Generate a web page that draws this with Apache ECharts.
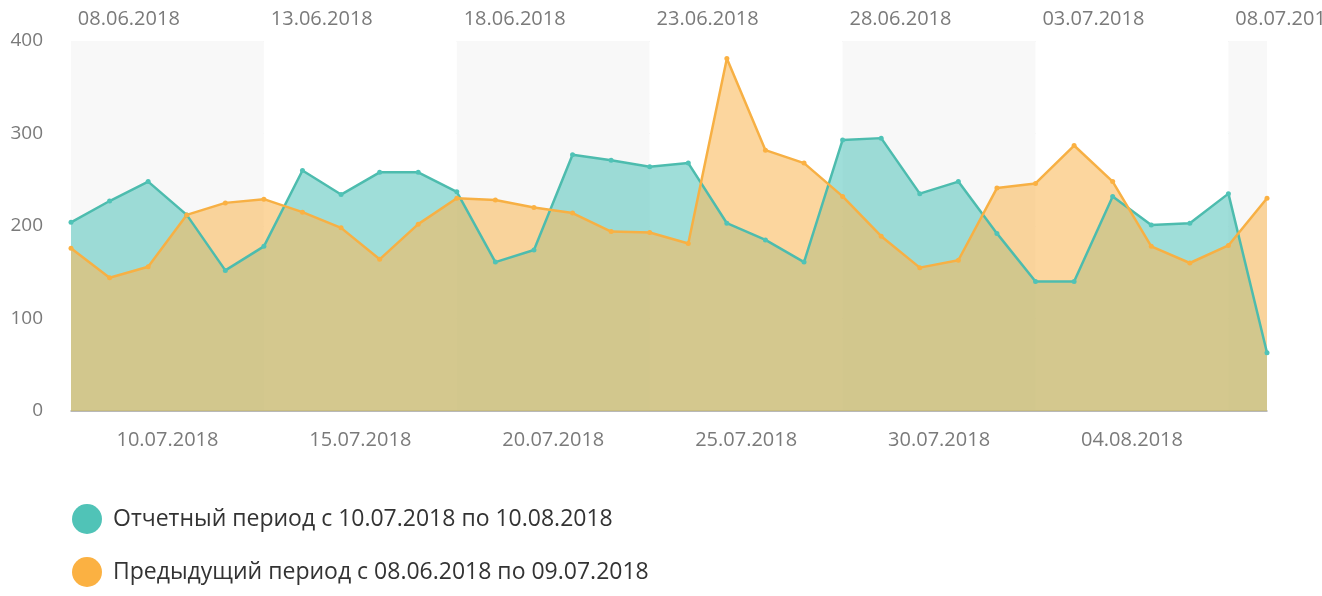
<!DOCTYPE html>
<html>
<head>
<meta charset="utf-8">
<script src="https://cdn.jsdelivr.net/npm/echarts@6/dist/echarts.min.js"></script>
<style>
  html, body { margin: 0; padding: 0; background: #fff; }
  #chart { width: 1322px; height: 596px; }
</style>
</head>
<body>
<div id="chart"></div>
<script>
// отчетный период 10.07 - 10.08 (32 дня)
const current = [204, 227, 248, 212, 152, 178, 260, 234, 258, 258, 237, 161, 174, 277, 271, 264,
  268, 203, 185, 161, 293, 295, 235, 248, 192, 140, 140, 232, 201, 203, 235, 63];
// предыдущий период 08.06 - 09.07
const previous = [176, 144, 156, 212, 225, 229, 215, 198, 164, 202, 230, 228, 220, 214, 194, 193,
  181, 381, 282, 268, 232, 189, 155, 163, 241, 246, 287, 248, 178, 160, 179, 230];

const bottomLabels = ['10.07.2018', '15.07.2018', '20.07.2018', '25.07.2018', '30.07.2018', '04.08.2018'];
const topLabels = ['08.06.2018', '13.06.2018', '18.06.2018', '23.06.2018', '28.06.2018', '03.07.2018', '08.07.2018'];
const names = ['Отчетный период с 10.07.2018 по 10.08.2018', 'Предыдущий период с 08.06.2018 по 09.07.2018'];

const chart = echarts.init(document.getElementById('chart'));
const font = '"Open Sans", "Noto Sans", sans-serif';
const unit = (1322 - 71 - 55) / 31; // ширина одного дня в пикселях

const pick = (v, start, arr) => {
  const k = (v - start) / 5;
  const r = Math.round(k);
  return Math.abs(k - r) < 1e-6 && arr[r] !== undefined ? arr[r] : '';
};

const option = {
  animation: false,
  textStyle: { fontFamily: font },
  grid: { left: 71, right: 55, top: 41, bottom: 185, outerBoundsMode: 'none', containLabel: false },
  legend: {
    orient: 'vertical',
    left: 67,
    top: 499,
    itemGap: 23,
    itemWidth: 32,
    itemHeight: 30,
    icon: 'circle',
    textStyle: { fontSize: 23, color: '#333', fontFamily: font, padding: [0, 0, 0, 5] },
    data: names
  },
  xAxis: [{
    type: 'value',
    min: 0,
    max: 31,
    interval: 2.5,
    axisLine: { show: true, lineStyle: { color: '#a8a8a8', width: 1.5 } },
    axisTick: { show: false },
    splitLine: { show: false },
    splitArea: { show: true, areaStyle: { color: ['#f8f8f8', '#f8f8f8', '#ffffff', '#ffffff'] } },
    axisLabel: {
      color: '#7a7a7a',
      fontSize: 20,
      margin: 19,
      fontFamily: font,
      formatter: v => pick(v, 2.5, bottomLabels)
    }
  }, {
    type: 'value',
    position: 'top',
    min: 0,
    max: 31,
    interval: 1,
    axisLine: { show: false },
    axisTick: { show: false },
    splitLine: { show: false },
    axisLabel: {
      color: '#7a7a7a',
      fontSize: 20,
      margin: 12,
      fontFamily: font,
      padding: [0, 0, 0, unit],
      formatter: v => pick(v, 1, topLabels)
    }
  }],
  yAxis: {
    type: 'value',
    min: 0,
    max: 400,
    interval: 100,
    axisLine: { show: false },
    axisTick: { show: false },
    splitLine: { lineStyle: { color: '#e8e8e8' } },
    axisLabel: { color: '#7a7a7a', fontSize: 19, margin: 28, fontFamily: font }
  },
  series: [{
    name: names[0],
    type: 'line',
    xAxisIndex: 0,
    data: current.map((v, i) => [i, v]),
    symbol: 'circle',
    symbolSize: 5,
    itemStyle: { color: '#50c3b7' },
    lineStyle: { color: '#4dbcae', width: 2.5 },
    areaStyle: { color: '#50c3b9', opacity: 0.55 }
  }, {
    name: names[1],
    type: 'line',
    xAxisIndex: 0,
    data: previous.map((v, i) => [i, v]),
    symbol: 'circle',
    symbolSize: 5,
    itemStyle: { color: '#fbb142' },
    lineStyle: { color: '#f7b044', width: 2.5 },
    areaStyle: { color: '#fab858', opacity: 0.58 }
  }]
};

chart.setOption(option);
</script>
</body>
</html>
